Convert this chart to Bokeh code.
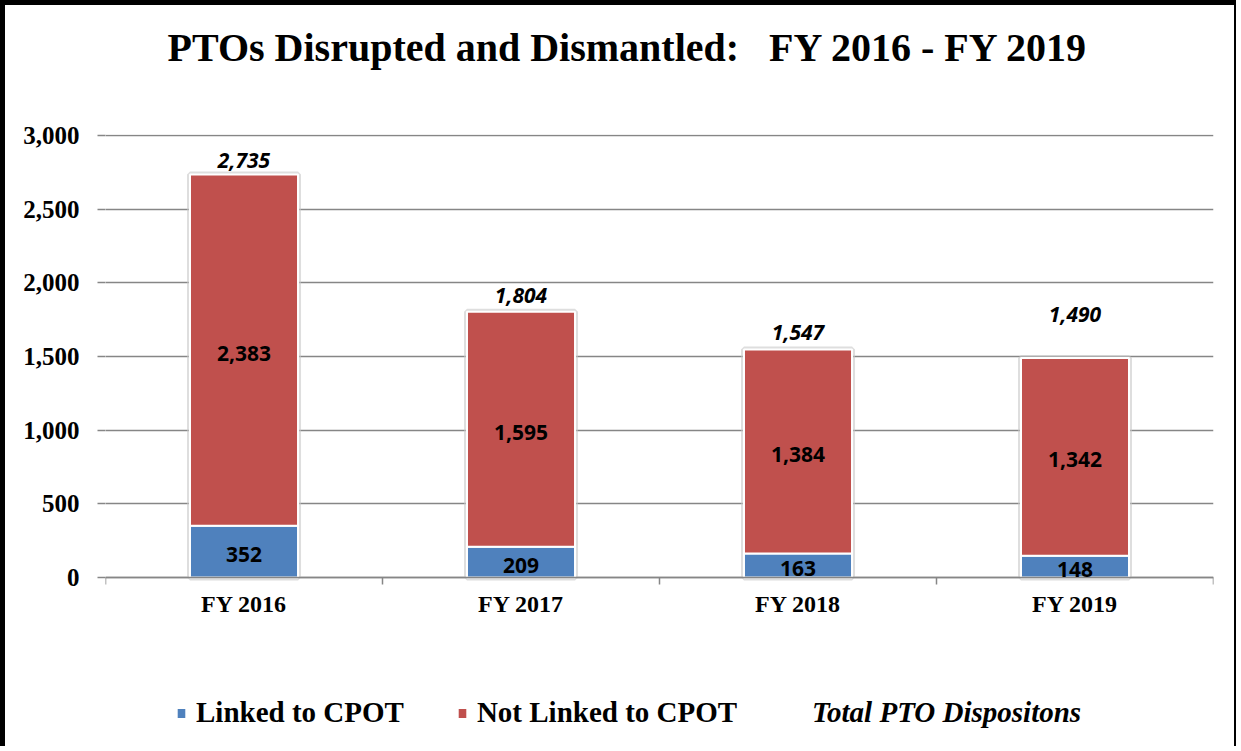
from bokeh.plotting import figure
from bokeh.models import (ColumnDataSource, FixedTicker, NumeralTickFormatter, LabelSet,
                          Legend, LegendItem, Title, Range1d)
from bokeh.core.properties import value
from bokeh.embed import file_html
from bokeh.resources import INLINE

# ---- data ----
categories = ["FY 2016", "FY 2017", "FY 2018", "FY 2019"]
linked = [352, 209, 163, 148]
not_linked = [2383, 1595, 1384, 1342]
totals = [2735, 1804, 1547, 1490]
y_ticks = [0, 500, 1000, 1500, 2000, 2500, 3000]
title_text = "PTOs Disrupted and Dismantled:\u00a0\u00a0 FY 2016 - FY 2019"
series_names = ["Linked to CPOT", "Not Linked to CPOT", "Total PTO Dispositons"]

# ---- style / layout ----
BLUE = "#4F81BD"
RED = "#C0504D"
GRID = "#868686"
SERIF = "Liberation Serif"
SANS = "Open Sans"
BAR_W = 0.39
total_label_lift = [14, 16, 17, 43]  # px above bar top (as placed in the original)

W, H = 1236, 746
TOP_PX = 130        # canvas px of the 3,000 line
ZERO_PX = 572       # canvas px of the 0 line
Y_MAX = y_ticks[-1]
UNITS_PER_PX = Y_MAX / (ZERO_PX - TOP_PX)
# frame reaches to the canvas bottom so the legend can live inside it,
# and 1px above the top gridline so that line is drawn
y_start = -(H - ZERO_PX) * UNITS_PER_PX
y_end = Y_MAX + 1 * UNITS_PER_PX

xs = [i + 0.5 for i in range(len(categories))]
stack_top = [a + b for a, b in zip(linked, not_linked)]
src = ColumnDataSource(dict(
    x=xs,
    linked=linked,
    top_all=stack_top,
    total=totals,
    mid_linked=[v / 2 for v in linked],
    mid_not=[a + b / 2 for a, b in zip(linked, not_linked)],
    lab_linked=[f"{v:,}" for v in linked],
    lab_not=[f"{v:,}" for v in not_linked],
    lab_total=[f"{v:,}" for v in totals],
    lift=total_label_lift,
))

p = figure(width=W, height=H, output_backend="svg", toolbar_location=None,
           x_range=Range1d(0, len(categories)), y_range=Range1d(y_start, y_end),
           min_border_left=100, min_border_right=W - 1208, min_border_top=TOP_PX - 1,
           min_border_bottom=0,
           background_fill_color="white", border_fill_color="white",
           outline_line_color=None, title=None,
           styles={"border-left": "5px solid black", "border-top": "5px solid black",
                   "border-right": "2px solid black"})

p.title = Title(text=title_text, align="left", offset=62, standoff=0,
                text_font=SERIF, text_font_style="bold", text_font_size="40px",
                text_color="black")
# blank spacer between title and plot area
p.add_layout(Title(text="\u00a0", text_font_size="1px", standoff=62), "above")

# axes
p.yaxis.ticker = FixedTicker(ticks=y_ticks)
p.yaxis.formatter = NumeralTickFormatter(format="0,0")
p.yaxis.axis_line_color = None
p.yaxis.major_tick_out = 8
p.yaxis.major_tick_in = 0
p.yaxis.major_tick_line_color = GRID
p.yaxis.major_tick_line_width = 1.5
p.yaxis.minor_tick_line_color = None
p.yaxis.major_label_standoff = 18
p.yaxis.major_label_text_font = SERIF
p.yaxis.major_label_text_font_style = "bold"
p.yaxis.major_label_text_font_size = "25px"
p.yaxis.major_label_text_color = "black"

p.xaxis.fixed_location = 0
p.xaxis.ticker = FixedTicker(ticks=xs, minor_ticks=list(range(len(categories) + 1)))
p.xaxis.major_label_overrides = {x: c for x, c in zip(xs, categories)}
p.xaxis.major_tick_line_color = None
p.xaxis.minor_tick_out = 7
p.xaxis.minor_tick_in = 0
p.xaxis.minor_tick_line_color = GRID
p.xaxis.minor_tick_line_width = 1.5
p.xaxis.axis_line_color = GRID
p.xaxis.axis_line_width = 1.5
p.xaxis.major_label_standoff = 6
p.xaxis.major_label_text_font = SERIF
p.xaxis.major_label_text_font_style = "bold"
p.xaxis.major_label_text_font_size = "24px"
p.xaxis.major_label_text_color = "black"

p.xgrid.visible = False
p.ygrid.ticker = FixedTicker(ticks=y_ticks)
p.ygrid.grid_line_color = GRID
p.ygrid.grid_line_width = 1.5

# bars
p.vbar(x="x", width=BAR_W, bottom=0, top="top_all", source=src,
       fill_color=None, line_color="#c8c8c8", line_alpha=0.6, line_width=6)
r1 = p.vbar(x="x", width=BAR_W, bottom=0, top="linked", source=src,
            fill_color=BLUE, line_color="white", line_width=2)
r2 = p.vbar(x="x", width=BAR_W, bottom="linked", top="top_all", source=src,
            fill_color=RED, line_color="white", line_width=2)
r3 = p.scatter(x="x", y="total", source=src, size=1, fill_alpha=0, line_alpha=0)

# labels
common = dict(source=src, text_align="center", text_baseline="middle",
              text_font=value(SANS), text_font_size=value("21px"), text_color="black")
p.add_layout(LabelSet(x="x", y="mid_linked", text="lab_linked", y_offset=-3,
                      text_font_style="bold", **common))
p.add_layout(LabelSet(x="x", y="mid_not", text="lab_not", y_offset=-3,
                      text_font_style="bold", **common))
p.add_layout(LabelSet(x="x", y="total", text="lab_total", y_offset="lift",
                      text_font_style="bold italic", **common))

# legends (inside the extended plot area, below the axis)
leg_y = H - 724  # px above the canvas bottom
leg_common = dict(orientation="horizontal", label_text_font=SERIF,
                  label_text_font_size="29px", label_text_color="black",
                  glyph_width=12, glyph_height=14, label_standoff=9, spacing=52,
                  padding=0, margin=0, border_line_color=None, background_fill_alpha=0)
leg1 = Legend(items=[LegendItem(label=series_names[0], renderers=[r1]),
                     LegendItem(label=series_names[1], renderers=[r2])],
              location=(70, leg_y), label_text_font_style="bold", **leg_common)
leg2 = Legend(items=[LegendItem(label=series_names[2], renderers=[r3])],
              location=(686, leg_y), label_text_font_style="bold italic", **leg_common)
p.add_layout(leg1, "center")
p.add_layout(leg2, "center")

open("out.html", "w").write(file_html(p, INLINE))
